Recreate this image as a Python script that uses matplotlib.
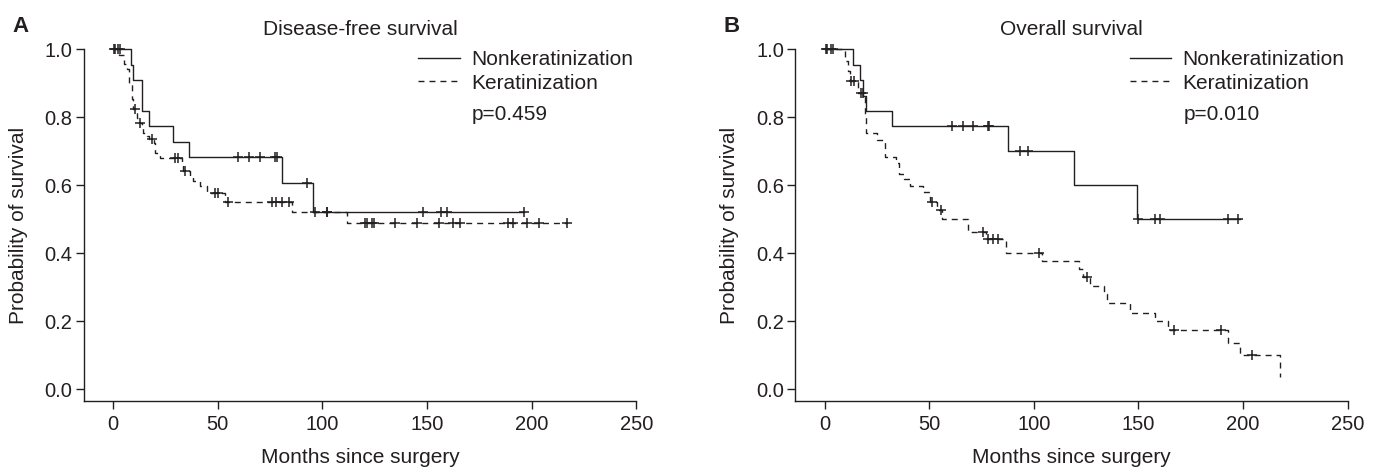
import numpy as np
import matplotlib
matplotlib.use('Agg')
import matplotlib.pyplot as plt
from matplotlib.lines import Line2D

plt.rcParams['font.family'] = ['Liberation Sans', 'DejaVu Sans']

INK = '#231f20'
DASH = (0, (4.3, 3.6))

# A: disease-free survival, nonkeratinization (event times / survival after each step)
dfs_non_t = [0, 8.8, 9.7, 13.7, 17.4, 28.5, 36.5, 80.6, 95.4]
dfs_non_s = [1.0, 0.955, 0.909, 0.818, 0.773, 0.727, 0.682, 0.606, 0.52]
dfs_non_cens = [0.5, 3.5, 59.9, 65.1, 70.2, 77.4, 78.3, 92.8, 148.3, 156.7, 159.7, 196.4]
dfs_non_end = 196.4

# A: disease-free survival, keratinization
dfs_ker_t = [0, 3.0, 5.0, 6.8, 7.8, 8.9, 9.7, 11.3, 12.6, 13.7, 14.5, 16.1, 17.0,
             19.5, 20.1, 22.5, 32.8, 33.5, 36.8, 38.0, 41.6, 44.8, 53.5, 85.7, 112.0]
dfs_ker_s = [1.0, 0.983, 0.956, 0.941, 0.902, 0.853, 0.824, 0.799, 0.784, 0.770, 0.755, 0.745, 0.735,
             0.725, 0.696, 0.681, 0.667, 0.642, 0.623, 0.613, 0.598, 0.578, 0.552, 0.522, 0.488]
dfs_ker_cens = [1.0, 2.5, 10.5, 12.9, 18.5, 29.6, 31.2, 34.4, 48.7, 50.3, 55.1, 75.8, 77.9, 80.6, 84.2,
                96.5, 102.1, 102.4, 120.4, 121.2, 123.6, 124.8, 134.7, 145.1, 155.9, 162.6, 165.9,
                188.9, 191.3, 197.7, 203.7, 217.0]
dfs_ker_end = 217.0

# B: overall survival, nonkeratinization
os_non_t = [0, 13.5, 17.0, 18.2, 19.7, 32.4, 87.8, 119.0, 149.5]
os_non_s = [1.0, 0.955, 0.909, 0.864, 0.818, 0.773, 0.700, 0.600, 0.500]
os_non_cens = [1.0, 4.2, 60.8, 66.0, 71.1, 78.3, 78.7, 93.4, 97.1, 149.7, 157.9, 160.3, 192.9, 197.7]
os_non_end = 198.5

# B: overall survival, keratinization
os_ker_t = [0, 9.8, 11.4, 12.0, 16.0, 19.2, 19.5, 19.9, 25.0, 29.0, 34.3, 35.5, 38.0, 40.9,
            47.2, 50.4, 53.8, 56.3, 68.4, 77.0, 86.5, 103.8, 121.7, 123.5, 126.9, 133.5, 135.0,
            146.0, 157.9, 164.3, 192.6, 198.5, 217.6]
os_ker_s = [1.0, 0.966, 0.936, 0.907, 0.871, 0.84, 0.81, 0.755, 0.734, 0.684, 0.666, 0.632, 0.618, 0.598,
            0.579, 0.551, 0.527, 0.502, 0.464, 0.441, 0.400, 0.377, 0.353, 0.330, 0.304, 0.280, 0.253,
            0.225, 0.201, 0.174, 0.137, 0.100, 0.037]
os_ker_cens = [0.5, 3.0, 12.6, 14.0, 17.3, 18.3, 51.5, 55.5, 75.5, 78.0, 80.4, 83.0, 102.6,
               125.3, 167.0, 189.3, 204.1]
os_ker_end = 217.6

xticks = [0, 50, 100, 150, 200, 250]
yticks = [0.0, 0.2, 0.4, 0.6, 0.8, 1.0]
group_labels = ['Nonkeratinization', 'Keratinization']


def km_curve(ax, t, s, cens, end, ls):
    tt = list(t) + [end]
    ss = list(s) + [s[-1]]
    ax.step(tt, ss, where='post', color=INK, lw=1.0, ls=ls, clip_on=False)
    idx = np.searchsorted(t, cens, side='right') - 1
    ax.plot(cens, np.array(s)[idx], ls='none', marker='+', ms=7, mew=1.1,
            color=INK, clip_on=False)


def setup(ax, title, letter, pval):
    ax.set_xlim(-13.9, 250)
    ax.set_ylim(-0.0344, 1.0)
    for side in ['top', 'right']:
        ax.spines[side].set_visible(False)
    for side in ['left', 'bottom']:
        ax.spines[side].set_color(INK)
        ax.spines[side].set_linewidth(1.0)
    ax.set_xticks(xticks)
    ax.set_yticks(yticks)
    ax.set_yticklabels(['%.1f' % v for v in yticks])
    ax.tick_params(direction='out', length=5.8, width=1.0, color=INK,
                   labelcolor=INK, labelsize=14.5)
    ax.tick_params(axis='y', pad=2.5)
    ax.tick_params(axis='x', pad=4.5)
    ax.set_xlabel('Months since surgery', fontsize=15, color=INK, labelpad=10)
    ax.set_ylabel('Probability of survival', fontsize=15, color=INK, labelpad=12)
    ax.set_title(title, fontsize=15, color=INK, pad=10)
    ax.text(-0.130, 1.065, letter, transform=ax.transAxes, fontsize=16,
            fontweight='bold', color=INK, va='center', ha='left')
    handles = [Line2D([], [], color=INK, lw=1.0),
               Line2D([], [], color=INK, lw=1.0, ls=DASH)]
    ax.legend(handles, group_labels, loc='upper left', bbox_to_anchor=(0.605, 0.998),
              frameon=False, fontsize=15, handlelength=2.0, handletextpad=0.55,
              labelspacing=0.22, borderpad=0, borderaxespad=0, labelcolor=INK)
    ax.text(0.7025, 0.815, pval, transform=ax.transAxes, fontsize=15,
            color=INK, va='center', ha='left')


fig = plt.figure(figsize=(13.81, 4.72), dpi=100)
axA = fig.add_axes([0.0608, 0.1504, 0.3999, 0.7452])
axB = fig.add_axes([0.5760, 0.1504, 0.3999, 0.7452])

km_curve(axA, dfs_non_t, dfs_non_s, dfs_non_cens, dfs_non_end, '-')
km_curve(axA, dfs_ker_t, dfs_ker_s, dfs_ker_cens, dfs_ker_end, DASH)
setup(axA, 'Disease-free survival', 'A', 'p=0.459')

km_curve(axB, os_non_t, os_non_s, os_non_cens, os_non_end, '-')
km_curve(axB, os_ker_t, os_ker_s, os_ker_cens, os_ker_end, DASH)
setup(axB, 'Overall survival', 'B', 'p=0.010')

fig.savefig('out.png', dpi=100)
